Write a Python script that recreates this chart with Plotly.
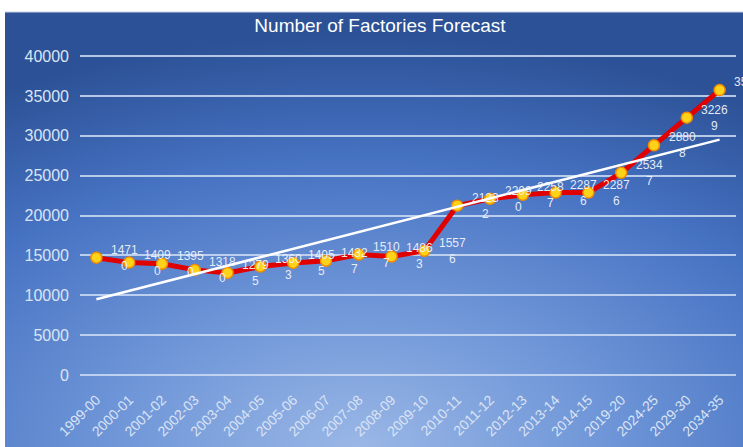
import base64
import numpy as np
import plotly.graph_objects as go

# Financial-year periods on the category axis
periods = [
    "1999-00", "2000-01", "2001-02", "2002-03", "2003-04", "2004-05",
    "2005-06", "2006-07", "2007-08", "2008-09", "2009-10", "2010-11",
    "2011-12", "2012-13", "2013-14", "2014-15", "2019-20", "2024-25",
    "2029-30", "2034-35",
]
# Number of factories (actuals followed by forecast)
factories = [
    14710, 14090, 13950, 13180, 12795, 13603, 14055, 14327, 15107, 14863,
    15576, 21232, 22090, 22587, 22876, 22876, 25347, 28808, 32269, 35730,
]
y_ticks = [0, 5000, 10000, 15000, 20000, 25000, 30000, 35000, 40000]

# Linear trendline fitted over the category index
idx = np.arange(len(periods))
slope, intercept = np.polyfit(idx, factories, 1)
trend = intercept + slope * idx

W, H = 743, 447
ML, MR, MT, MB = 80, 7, 55, 71
PW, PH = W - ML - MR, H - MT - MB
Y_PAD = 130  # small headroom so the 0 and 40000 gridlines are drawn

# Blue radial-gradient backdrop for the chart frame
svg = """<svg xmlns='http://www.w3.org/2000/svg' width='738' height='435' viewBox='0 0 738 435' preserveAspectRatio='none'>
<defs><radialGradient id='g' cx='0.48' cy='1.0' r='0.95' fx='0.48' fy='1.0'>
<stop offset='0' stop-color='#9ab7e6'/>
<stop offset='0.35' stop-color='#6f96d8'/>
<stop offset='0.7' stop-color='#4672c2'/>
<stop offset='1' stop-color='#2c5196'/>
</radialGradient></defs>
<rect width='738' height='435' fill='url(#g)'/>
</svg>"""
bg_src = "data:image/svg+xml;base64," + base64.b64encode(svg.encode()).decode()

fx0, fy0 = 5, 12  # top-left of the frame in pixels
img_x = (fx0 - ML) / PW
img_y = (MT + PH - fy0) / PH
img_w = (W - fx0) / PW
img_h = (H - fy0) / PH

fig = go.Figure()

fig.add_trace(go.Scatter(
    x=periods, y=factories, mode="lines+markers",
    line=dict(color="#e00000", width=5),
    marker=dict(size=11, color="#ffd21a", line=dict(color="#f28c00", width=1.5)),
    hoverinfo="skip", showlegend=False,
))

fig.add_trace(go.Scatter(
    x=periods, y=trend, mode="lines",
    line=dict(color="#ffffff", width=2.5),
    hoverinfo="skip", showlegend=False,
))

# Value labels, wrapped after four digits, set to the right of each point
annotations = []
for p, v in zip(periods, factories):
    s = str(v)
    annotations.append(dict(
        x=p, y=v, xref="x", yref="y", xshift=28,
        text=f"{s[:4]}<br>{s[4:]}", showarrow=False, align="center",
        xanchor="center", yanchor="middle",
        font=dict(family="Liberation Sans, Arial", size=12, color="rgba(240,244,252,0.95)"),
    ))

fig.update_layout(
    width=W, height=H,
    margin=dict(l=ML, r=MR, t=MT, b=MB, pad=0, autoexpand=False),
    paper_bgcolor="#ffffff",
    plot_bgcolor="rgba(0,0,0,0)",
    font=dict(family="Liberation Sans, Arial", color="#dbe4f4"),
    title=dict(
        text="Number of Factories Forecast",
        x=380 / W, xref="container", xanchor="center",
        y=1 - 25 / H, yref="container", yanchor="middle",
        font=dict(size=19, color="#ffffff"),
    ),
    images=[dict(
        source=bg_src, xref="paper", yref="paper",
        x=img_x, y=img_y, sizex=img_w, sizey=img_h,
        xanchor="left", yanchor="top", sizing="stretch", layer="below",
    )],
    shapes=[dict(
        type="line", xref="paper", yref="paper",
        x0=img_x, x1=img_x + img_w, y0=img_y, y1=img_y,
        line=dict(color="#c9d3e2", width=1),
    )],
    annotations=annotations,
    xaxis=dict(
        type="category", categoryorder="array", categoryarray=periods,
        range=[-0.5, len(periods) - 0.5], automargin=False,
        tickangle=-45, tickfont=dict(size=14, color="#dbe4f4"),
        showgrid=False, showline=False, zeroline=False,
        ticks="", ticklabelstandoff=12,
    ),
    yaxis=dict(
        range=[-Y_PAD, 40000 + Y_PAD], tickvals=y_ticks, automargin=False,
        ticktext=[str(t) for t in y_ticks],
        tickfont=dict(size=16, color="#dbe4f4"),
        showgrid=True, gridcolor="rgba(205,220,243,0.85)", gridwidth=1.5,
        zeroline=False, showline=False, ticks="", ticklabelstandoff=10,
    ),
)

fig.write_html("out.html")
